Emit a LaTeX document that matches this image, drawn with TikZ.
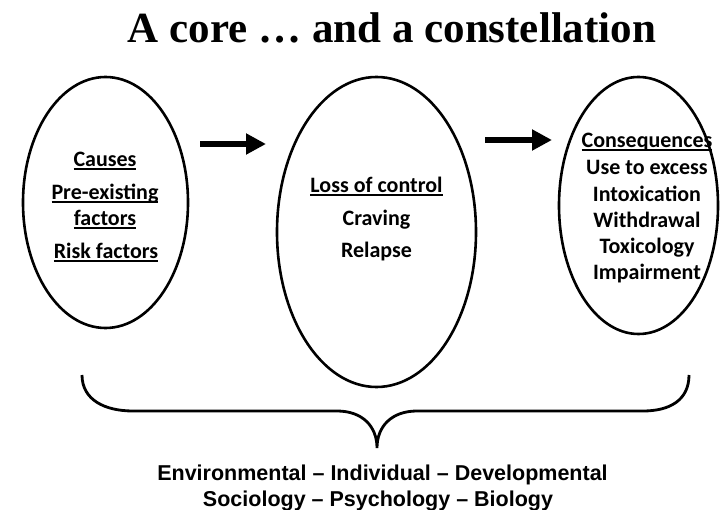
\documentclass[tikz,border=0pt]{standalone}
\usepackage{fontspec}
\setmainfont{Liberation Serif}
\newfontfamily\calfont{Carlito}
\newfontfamily\arialfont{Liberation Sans}
\usetikzlibrary{shapes.geometric,arrows.meta}
% fixed-depth underline that cuts through descenders
\newcommand\ulc[1]{\setbox0=\hbox{#1}\rlap{\rule[-3pt]{\wd0}{1.8pt}}\box0}
\begin{document}
\begin{tikzpicture}[x=1pt,y=-1pt,
  oval/.style={draw,ellipse,line width=2.6pt,inner sep=0pt},
  bigarrow/.style={line width=6pt,-{Triangle[length=20pt,width=20pt]}},
  cal/.style={font=\calfont\bfseries\fontsize{22}{26}\selectfont,anchor=base,inner sep=0pt},
  foot/.style={font=\arialfont\bfseries\fontsize{21.5}{26}\selectfont,anchor=base,inner sep=0pt},
  brace/.style={line width=2.8pt,line join=miter}]
\useasboundingbox (0,0) rectangle (720,510);

% title
\node[anchor=base,inner sep=0pt,font=\bfseries\fontsize{43}{50}\selectfont] (title) at (392,43) {A core … and a constellation};

% the three ovals
\node[oval,minimum width=165pt,minimum height=251pt] (causes) at (105.5,202.5) {};
\node[oval,minimum width=199pt,minimum height=310pt] (core) at (376.5,232) {};
\node[oval,minimum width=159pt,minimum height=257pt] (conseq) at (638.5,205.5) {};

% left oval text
\node[cal] (c1) at (105,167) {\ulc{Causes}};
\node[cal] (c2) at (105,200) {\ulc{Pre-existing}};
\node[cal] (c3) at (105,226) {\ulc{factors}};
\node[cal] (c4) at (106,259) {\ulc{Risk factors}};

% middle oval text
\node[cal] (m1) at (376.5,193) {\ulc{Loss of control}};
\node[cal] (m2) at (376.5,226) {Craving};
\node[cal] (m3) at (376.5,258) {Relapse};

% right oval text
\node[cal] (r1) at (647,148) {\ulc{Consequences}};
\node[cal] (r2) at (647,175) {Use to excess};
\node[cal] (r3) at (647,202) {Intoxication};
\node[cal] (r4) at (647,228) {Withdrawal};
\node[cal] (r5) at (647,254) {Toxicology};
\node[cal] (r6) at (647,280) {Impairment};

% arrows between the ovals
\coordinate (a1s) at (200,144);
\coordinate (a1e) at (266,144);
\coordinate (a2s) at (485,140);
\coordinate (a2e) at (552,140);
\draw[bigarrow] (a1s) -- (a1e);
\draw[bigarrow] (a2s) -- (a2e);

% brace gathering the three ovals
\coordinate (bl) at (82,375);
\coordinate (tip) at (377,448);
\coordinate (br) at (689,375);
\draw[brace] (bl) .. controls (82,400) and (105,411) .. (133,411) -- (337,411)
  .. controls (362,411) and (377,426) .. (tip)
  .. controls (377,426) and (392,411) .. (417,411) -- (643,411)
  .. controls (670,411) and (689,400) .. (br);

% footer
\node[foot] (f1) at (382.5,480) {Environmental – Individual – Developmental};
\node[foot] (f2) at (378,506) {Sociology – Psychology – Biology};
\end{tikzpicture}
\end{document}
